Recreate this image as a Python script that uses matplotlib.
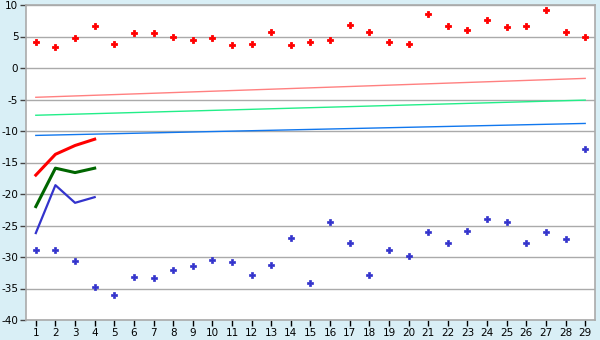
import numpy as np
import matplotlib.pyplot as plt

plt.rcParams['axes.unicode_minus'] = False

x = np.arange(1, 30)

red_pts = [4.1, 3.3, 4.7, 6.7, 3.8, 5.5, 5.5, 4.9, 4.4, 4.7,
           3.6, 3.8, 5.7, 3.6, 4.1, 4.4, 6.8, 5.7, 4.2, 3.8,
           8.5, 6.6, 6.0, 7.6, 6.5, 6.6, 9.2, 5.7, 4.9]
blue_pts = [-28.9, -28.9, -30.7, -34.8, -36.1, -33.2, -33.4, -32.1, -31.5, -30.5,
            -30.8, -32.8, -31.3, -27.0, -34.2, -24.5, -27.8, -32.9, -28.9, -29.9,
            -26.1, -27.8, -25.9, -24.0, -24.5, -27.8, -26.1, -27.2, -12.8]

# short series, first four periods
x4 = [1, 2, 3, 4]
red_line = [-17.0, -13.7, -12.3, -11.3]
green_line = [-22.0, -15.9, -16.6, -15.9]
blue_line = [-26.2, -18.6, -21.4, -20.5]

# straight trend lines from period 1 to 29
trend_x = [1, 29]
trend_pink = [-4.65, -1.65]
trend_green = [-7.5, -5.1]
trend_blue = [-10.7, -8.8]

fig = plt.figure(figsize=(6, 3.4), dpi=100)
fig.patch.set_facecolor('#d9eff6')
ax = fig.add_axes([26/600, 20/340, 569/600, 315/340])
ax.set_facecolor('white')

ax.set_xlim(0.5, 29.5)
ax.set_ylim(-40, 10)
ax.set_yticks(np.arange(-40, 11, 5))
ax.set_xticks(x)
ax.grid(axis='y', color='#aaaaaa', linewidth=1)
ax.set_axisbelow(True)
for s in ax.spines.values():
    s.set_color('#aaaaaa')
    s.set_linewidth(1.2)
ax.tick_params(colors='#444444', labelcolor='black', labelsize=7.5, length=4, width=1, pad=1.5)
ax.tick_params(axis='x', color='black')

ax.plot(trend_x, trend_pink, color='#ff8080', lw=1)
ax.plot(trend_x, trend_green, color='#22ee88', lw=1)
ax.plot(trend_x, trend_blue, color='#1177ee', lw=1)

ax.plot(x4, red_line, color='#ff0000', lw=2.2)
ax.plot(x4, green_line, color='#006600', lw=2.2)
ax.plot(x4, blue_line, color='#3333cc', lw=1.6)

ax.plot(x, red_pts, 'P', color='#ff0000', ms=5, mew=0.6, linestyle='none')
ax.plot(x, blue_pts, 'P', color='#3333cc', ms=4.5, mew=0.5, linestyle='none')

fig.savefig('out.png', dpi=100, facecolor=fig.get_facecolor())
